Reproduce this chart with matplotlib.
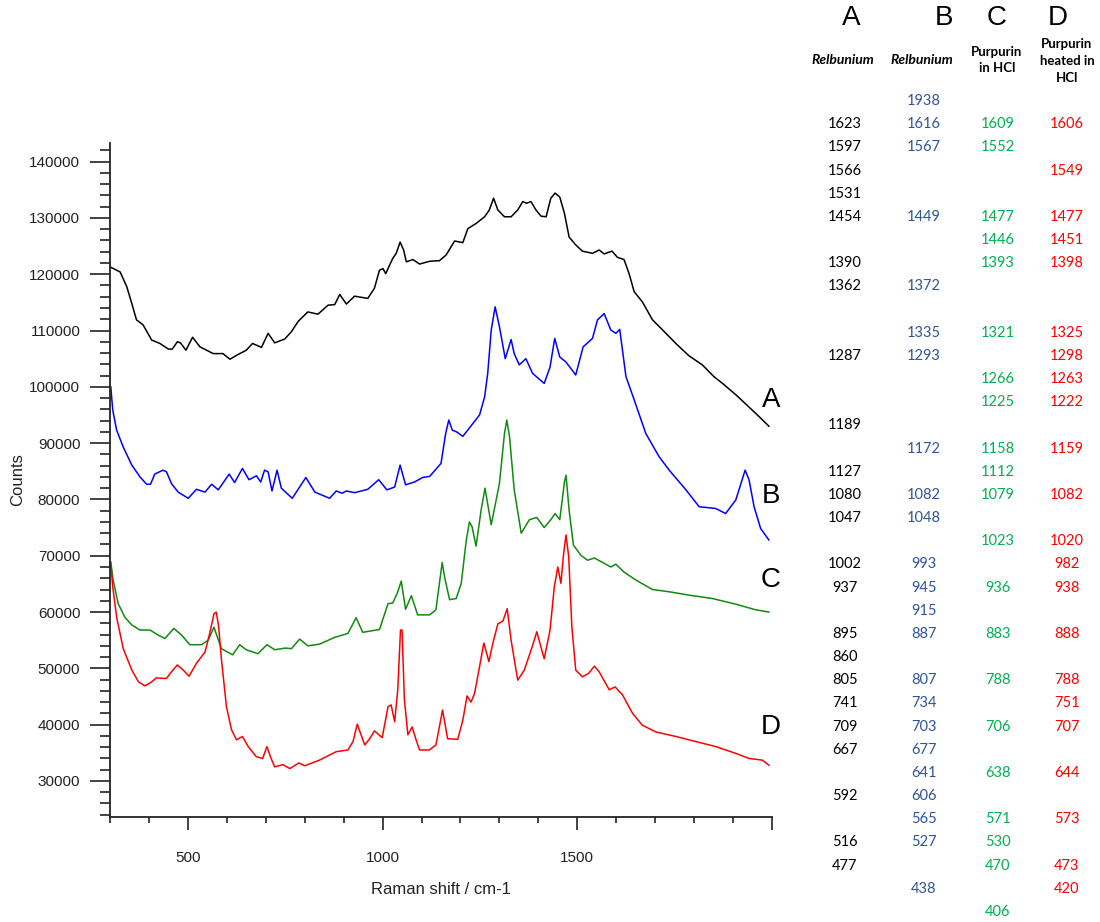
import matplotlib.pyplot as plt
from matplotlib.ticker import MultipleLocator

plt.rcParams['font.family'] = ['Liberation Sans', 'DejaVu Sans']

# спектры, см-1 / отсчёты
A_x = [300, 326, 343, 356, 368, 385, 407, 428, 450, 460, 473, 481, 495, 512, 531, 565, 590, 608, 625, 650,
       666, 689, 706, 723, 749, 766, 783, 808, 834, 860, 877, 890, 907, 928, 962, 979, 992, 1001, 1008, 1026,
       1035, 1045, 1054, 1061, 1078, 1095, 1121, 1146, 1163, 1185, 1206, 1219, 1240, 1262, 1274, 1285, 1296,
       1313, 1330, 1347, 1360, 1370, 1381, 1394, 1407, 1420, 1432, 1443, 1455, 1467, 1479, 1496, 1513, 1539,
       1556, 1569, 1589, 1603, 1620, 1633, 1646, 1667, 1693, 1719, 1753, 1787, 1821, 1851, 1873, 1907, 1941,
       1967, 1992]
A_y = [121300, 120400, 117800, 114800, 111900, 111000, 108300, 107700, 106700, 106700, 108000, 107800,
       106500, 108800, 107100, 105900, 105900, 104900, 105600, 106500, 107700, 107000, 109500, 107800, 108500,
       109800, 111600, 113300, 112900, 114500, 114600, 116400, 114700, 116100, 115700, 117500, 120700, 121000,
       120100, 122800, 123700, 125700, 124300, 122200, 122600, 121800, 122300, 122400, 123400, 125900, 125600,
       128100, 129000, 130200, 131400, 133500, 131400, 130200, 130200, 131400, 132900, 132600, 132900, 131400,
       130300, 130200, 133500, 134400, 133700, 130800, 126600, 125200, 124100, 123700, 124300, 123600, 124100,
       123000, 122600, 120100, 116900, 115100, 111900, 110100, 107700, 105500, 103900, 101800, 100600, 98600,
       96400, 94700, 93000]

B_x = [302, 307, 317, 334, 356, 377, 394, 404, 415, 436, 445, 458, 475, 501, 522, 544, 561, 578, 606, 620,
       640, 657, 676, 687, 697, 706, 716, 729, 740, 768, 803, 826, 864, 881, 896, 907, 928, 962, 990, 1011,
       1031, 1045, 1059, 1082, 1103, 1121, 1150, 1162, 1170, 1179, 1190, 1206, 1249, 1262, 1270, 1279, 1289,
       1300, 1315, 1330, 1338, 1351, 1368, 1385, 1415, 1430, 1442, 1455, 1471, 1496, 1515, 1539, 1552, 1569,
       1586, 1599, 1609, 1625, 1646, 1676, 1710, 1736, 1779, 1813, 1855, 1881, 1907, 1931, 1941, 1954, 1971,
       1992]
B_y = [100000, 95900, 92300, 89300, 86100, 84000, 82700, 82700, 84500, 85200, 84900, 82800, 81300, 80200,
       81800, 81300, 82700, 81700, 84500, 83000, 85500, 83500, 84200, 83100, 85200, 84900, 81500, 85200, 82000,
       80200, 83900, 81300, 80200, 81500, 81100, 81500, 81200, 81800, 83500, 81700, 82200, 86100, 82600, 83100,
       83900, 84100, 86400, 91700, 94100, 92300, 92000, 91200, 95000, 98200, 102400, 110100, 114200, 110700,
       105000, 108400, 105900, 103900, 105000, 102400, 100600, 103500, 108600, 105300, 104400, 102100, 107100,
       108600, 111900, 113000, 110100, 109500, 110200, 101800, 97700, 91700, 87600, 85200, 81700, 78700, 78400,
       77500, 79900, 85200, 83500, 78700, 74800, 72800]

C_x = [302, 308, 321, 338, 356, 377, 403, 424, 441, 464, 484, 505, 535, 552, 567, 586, 615, 633, 650, 680,
       703, 723, 750, 766, 787, 808, 838, 877, 911, 932, 949, 992, 1014, 1026, 1038, 1048, 1059, 1074, 1090,
       1121, 1137, 1153, 1159, 1172, 1189, 1202, 1215, 1223, 1230, 1240, 1253, 1263, 1279, 1300, 1313, 1319,
       1326, 1338, 1356, 1377, 1396, 1415, 1432, 1443, 1455, 1467, 1471, 1479, 1490, 1509, 1526, 1544, 1565,
       1586, 1599, 1620, 1650, 1693, 1736, 1787, 1847, 1907, 1958, 1992]
C_y = [68900, 65700, 61500, 59100, 57700, 56800, 56800, 55900, 55300, 57100, 55900, 54200, 54200, 55000,
       57300, 53500, 52400, 54200, 53300, 52600, 54200, 53300, 53600, 53500, 55200, 54000, 54300, 55500, 56200,
       59000, 56400, 56900, 61500, 61600, 63400, 65500, 60500, 62900, 59500, 59500, 60400, 68800, 66300, 62200,
       62400, 65100, 72800, 76000, 75100, 71700, 78100, 82000, 75500, 82800, 91700, 94100, 91100, 81700, 74000,
       76400, 76800, 75000, 76400, 77500, 76400, 83100, 84300, 78100, 71900, 70100, 69200, 69600, 68800, 68000,
       68500, 67100, 65700, 64000, 63600, 63000, 62400, 61400, 60400, 60000]

D_x = [302, 307, 317, 334, 356, 373, 390, 407, 419, 445, 458, 473, 488, 503, 522, 544, 556, 567, 573, 579,
       586, 599, 612, 625, 640, 655, 676, 692, 703, 712, 723, 744, 762, 785, 800, 838, 881, 911, 924, 935,
       954, 967, 979, 999, 1014, 1022, 1031, 1039, 1046, 1050, 1056, 1065, 1076, 1086, 1095, 1120, 1137, 1154,
       1167, 1193, 1206, 1217, 1227, 1236, 1249, 1260, 1273, 1283, 1296, 1309, 1320, 1330, 1347, 1364, 1384,
       1396, 1415, 1430, 1441, 1450, 1458, 1464, 1471, 1478, 1486, 1496, 1513, 1529, 1544, 1556, 1582, 1597,
       1616, 1642, 1667, 1702, 1753, 1804, 1856, 1907, 1941, 1975, 1992]
D_y = [68600, 64500, 59100, 53500, 49700, 47600, 46900, 47600, 48300, 48200, 49400, 50600, 49700, 48600,
       50900, 52900, 56200, 59700, 60000, 57400, 51700, 43200, 39100, 37300, 37900, 36100, 34300, 34000, 36100,
       34300, 32500, 32900, 32200, 33200, 32700, 33700, 35200, 35500, 37000, 40100, 36400, 37500, 38900, 37700,
       43200, 43500, 40500, 46200, 56800, 56800, 44400, 38200, 39600, 37300, 35500, 35500, 36400, 42600, 37500,
       37400, 40800, 45100, 44000, 45500, 50300, 54500, 51200, 54400, 57900, 58400, 60600, 55000, 47900, 49700,
       53800, 56500, 51700, 56800, 64500, 68000, 65100, 69800, 73700, 69800, 57400, 49700, 48500, 49100, 50400,
       49400, 46200, 46700, 45300, 42000, 39900, 38700, 37900, 37000, 36100, 34900, 34000, 33700, 32800]

# таблица пиков
tbl_A = ['', '1623', '1597', '1566', '1531', '1454', '', '1390', '1362', '',
         '', '1287', '', '', '1189', '', '1127', '1080', '1047', '',
         '1002', '937', '', '895', '860', '805', '741', '709', '667', '',
         '592', '', '516', '477', '', '']
tbl_B = ['1938', '1616', '1567', '', '', '1449', '', '', '1372', '',
         '1335', '1293', '', '', '', '1172', '', '1082', '1048', '',
         '993', '945', '915', '887', '', '807', '734', '703', '677', '641',
         '606', '565', '527', '', '438', '']
tbl_C = ['', '1609', '1552', '', '', '1477', '1446', '1393', '', '',
         '1321', '', '1266', '1225', '', '1158', '1112', '1079', '', '1023',
         '', '936', '', '883', '', '788', '', '706', '', '638',
         '', '571', '530', '470', '', '406']
tbl_D = ['', '1606', '', '1549', '', '1477', '1451', '1398', '', '',
         '1325', '1298', '1263', '1222', '', '1159', '', '1082', '', '1020',
         '982', '938', '', '888', '', '788', '751', '707', '', '644',
         '', '573', '', '473', '420', '']

xticks = [500, 1000, 1500, 2000]
xtick_labels = ['500', '1000', '1500', '']

W, H = 1100, 922
fig = plt.figure(figsize=(11, 9.22), dpi=100)
ax = fig.add_axes([110 / W, 1 - 817 / H, 662 / W, 674 / H])

ax.plot(A_x, A_y, color='black', lw=1.1)
ax.plot(B_x, B_y, color='#0000ff', lw=1.1)
ax.plot(C_x, C_y, color='#108a10', lw=1.1)
ax.plot(D_x, D_y, color='#ff0000', lw=1.1)

ax.set_xlim(300, 2000)
ax.set_ylim(23600, 143300)
ax.set_xticks(xticks)
ax.set_xticklabels(xtick_labels)
ax.xaxis.set_minor_locator(MultipleLocator(100))
ax.yaxis.set_major_locator(MultipleLocator(10000))
ax.yaxis.set_minor_locator(MultipleLocator(2000))

for s in ['top', 'right']:
    ax.spines[s].set_visible(False)
for s in ['left', 'bottom']:
    ax.spines[s].set_linewidth(1.3)
    ax.spines[s].set_color('#222222')

ax.tick_params(axis='y', which='major', length=14.4, width=1.2, pad=7, labelsize=11, colors='#222222')
ax.tick_params(axis='y', which='minor', length=7.2, width=1.2, colors='#222222')
ax.tick_params(axis='x', which='major', length=9.4, width=1.2, pad=15, labelsize=11, colors='#222222')
ax.tick_params(axis='x', which='minor', length=4.3, width=1.2, colors='#222222')

ax.set_ylabel('Counts', fontsize=12, color='#222222', labelpad=3)
ax.set_xlabel('Raman shift / cm-1', fontsize=12, color='#222222', labelpad=12)

# подписи кривых
for lab, yy in [('A', 400), ('B', 496), ('C', 580), ('D', 727)]:
    fig.text(771 / W, 1 - yy / H, lab, ha='center', va='center', fontsize=20)

# заголовки таблицы
for lab, xx in [('A', 851), ('B', 944), ('C', 997), ('D', 1058)]:
    fig.text(xx / W, 1 - 18 / H, lab, ha='center', va='center', fontsize=20)

tfont = ['Lato', 'DejaVu Sans']
fig.text(843 / W, 1 - 60 / H, 'Relbunium', ha='center', va='center', fontsize=10,
         fontweight='bold', style='italic', family=tfont)
fig.text(922 / W, 1 - 60 / H, 'Relbunium', ha='center', va='center', fontsize=10,
         fontweight='bold', style='italic', family=tfont)
fig.text(997 / W, 1 - 60 / H, 'Purpurin\nin HCl', ha='center', va='center', fontsize=9.5,
         fontweight='bold', family=tfont, linespacing=1.5)
fig.text(1067 / W, 1 - 61 / H, 'Purpurin\nheated in\nHCl', ha='center', va='center', fontsize=9.5,
         fontweight='bold', family=tfont, linespacing=1.5)

cols = [(tbl_A, 845, 'black'), (tbl_B, 924, '#2f5597'), (tbl_C, 998, '#00b050'), (tbl_D, 1067, '#ff0000')]
for vals, xx, col in cols:
    for i, v in enumerate(vals):
        if v:
            fig.text(xx / W, 1 - (101 + i * 23.17) / H, v, ha='center', va='center',
                     fontsize=10.5, color=col, family=tfont)

plt.savefig('out.png', dpi=100)
